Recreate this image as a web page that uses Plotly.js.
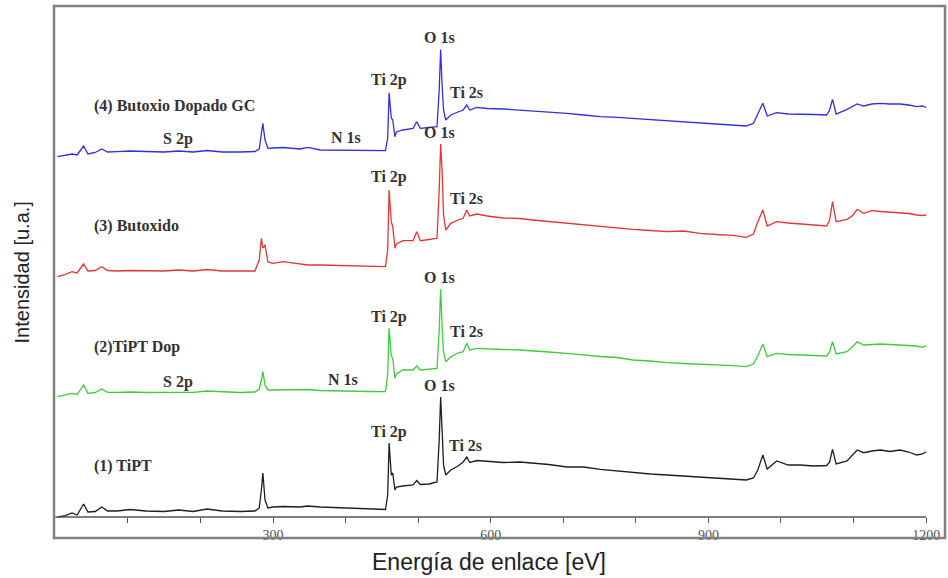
<!DOCTYPE html>
<html>
<head>
<meta charset="utf-8">
<script src="https://cdn.plot.ly/plotly-3.0.1.min.js"></script>
<style>html,body{margin:0;padding:0;background:#fff;}#chart{width:948px;height:578px;}</style>
</head>
<body>
<div id="chart"></div>
<script>
// Binding energy grid (eV)
const energia = [3, 12, 23, 30, 39, 45, 55, 64, 72, 85, 103, 125, 150, 170, 190, 209, 230, 255, 275, 281, 284, 286, 289, 293, 300, 314, 337, 348, 365, 385, 406, 430, 455, 458, 460, 463, 465, 468, 470, 479, 493, 498, 503, 515, 526, 529, 531, 533, 535, 538, 545, 555, 562, 567, 571, 581, 595, 617, 640, 658, 680, 705, 728, 751, 774, 796, 820, 843, 866, 888, 911, 934, 952, 962, 968, 975, 981, 994, 1010, 1026, 1045, 1063, 1067, 1071, 1076, 1091, 1098, 1105, 1114, 1125, 1137, 1150, 1164, 1176, 1187, 1195, 1200];

// Intensities (a.u., vertically offset spectra)
const tipt = [21, 22, 25, 23, 34, 26, 26.5, 31, 27, 27, 28.5, 27, 26.5, 28, 26.5, 29, 27, 26.5, 27, 30, 48, 65, 38, 30, 31, 31.5, 31, 32, 31, 30.5, 29.5, 29, 28.5, 43, 95, 63, 65, 48, 51, 52, 53, 57.5, 53.5, 54, 56, 98, 141, 108, 73, 63, 68, 72, 76, 81, 75.5, 77.5, 77, 75.5, 76, 75, 73.5, 71, 71, 68.7, 67, 66, 64, 63, 62, 60.5, 60, 59, 58, 60, 68, 83, 69, 77, 73, 73, 72, 72.5, 76, 88.7, 74, 77, 82, 88, 85.3, 87, 88, 86.5, 88, 86, 83, 84, 86.3];

const tiptDop = [141.3, 142.5, 144.7, 143.5, 153, 144.7, 145.5, 149, 145.7, 145.7, 146, 145.5, 145.5, 146, 145.7, 147, 146, 145.5, 146, 149, 158, 166.3, 153, 148, 148, 148, 148, 148.5, 147.5, 147, 147, 146.5, 146.3, 163, 209.7, 182, 179.7, 159.7, 164, 168, 168, 172, 168, 169, 169.7, 208, 248.7, 211.3, 186, 176.3, 181.3, 185, 186.3, 194.7, 188, 189.7, 189, 188.5, 188, 187.3, 186, 184.7, 183, 181.5, 180.5, 178, 177, 175.3, 174.5, 174, 173, 172.3, 171.3, 174, 182, 194, 181.3, 184.7, 183.5, 183, 182.5, 182, 186, 196.3, 184, 186.3, 191, 196.3, 193, 193.5, 194, 193.5, 193, 192.5, 192, 190.7, 192.3];

const butoxido = [261.3, 263, 266.3, 265, 274, 267, 267.5, 271.3, 267.5, 267, 267.5, 267, 267, 268, 267, 268.5, 267, 267, 267, 278, 299.7, 290, 293, 276, 274.7, 276.3, 274, 273, 273, 272.5, 272, 271.5, 271.3, 288, 348, 316, 311.3, 289.7, 294, 297.3, 297.3, 306.3, 297.3, 298.5, 299.7, 348, 394, 368, 323, 308, 314.7, 318, 319.7, 328, 322, 324, 322, 320, 319.5, 318, 316.5, 314.7, 313, 311.3, 309.7, 308.7, 307.5, 306.3, 307, 304.7, 303.5, 302.7, 300.7, 304, 316, 328, 312, 316.3, 315, 314, 313, 312, 318, 336.3, 316.3, 318.7, 322, 328.7, 324.7, 327.3, 326.5, 326, 325.3, 324.5, 323, 322.5, 323];

const butoxioGC = [381.3, 382.5, 384, 383, 392, 384, 385.5, 389, 386, 386.3, 387, 386.5, 386, 387, 386, 387.5, 386, 386, 386.5, 389, 403, 414.7, 398, 389.7, 390, 390.5, 389, 390.7, 388, 388, 387.7, 387.5, 387.3, 400, 445.3, 420, 418, 401.3, 406, 408, 409.7, 416.3, 409.7, 410.5, 411.3, 448, 488.5, 453, 428, 418, 423, 426, 428, 433, 428, 430.7, 429.5, 429, 428, 426.5, 426, 424.7, 423, 421.3, 420.7, 419.7, 418.5, 417.3, 416.5, 415.3, 414.5, 413.5, 412, 414.7, 424, 434.7, 422, 425.3, 424, 424, 423.5, 423, 428, 438.7, 424, 428.7, 431, 434, 432, 434, 434.7, 434, 434, 433, 431.3, 432, 430.7];

const tickValues = [100, 200, 300, 400, 500, 600, 700, 800, 900, 1000, 1100, 1200];
const tickLabels = ['', '', '300', '', '', '600', '', '', '900', '', '', '1200'];

const serieNombres = ['(1) TiPT', '(2)TiPT Dop', '(3) Butoxido', '(4) Butoxio Dopado GC'];
const serieColores = ['#1e1e1e', '#3dcc3d', '#e53535', '#3030e0'];
const series = [tipt, tiptDop, butoxido, butoxioGC];

const traces = series.map((s, i) => ({
  x: energia, y: s, type: 'scatter', mode: 'lines', name: serieNombres[i],
  line: {color: serieColores[i], width: 1.3}, showlegend: false, hoverinfo: 'skip'
}));

const labFont = {family: 'Liberation Serif, Times New Roman, serif', size: 16, color: '#333'};
function lab(text, x, y, anchor) {
  return {text: '<b>' + text + '</b>', x: x, y: y, xref: 'x', yref: 'y', showarrow: false,
          xanchor: anchor || 'center', yanchor: 'middle', font: labFont};
}
const annotations = [
  lab(serieNombres[3], 51, 432, 'left'),
  lab('S 2p', 169, 399), lab('N 1s', 400, 401), lab('Ti 2p', 460, 458), lab('O 1s', 530, 501), lab('Ti 2s', 566, 446),
  lab(serieNombres[2], 51, 312, 'left'),
  lab('O 1s', 530, 406), lab('Ti 2p', 460, 361), lab('Ti 2s', 566, 340),
  lab(serieNombres[1], 51, 191, 'left'),
  lab('S 2p', 169, 156), lab('N 1s', 396, 159), lab('O 1s', 530, 261), lab('Ti 2p', 460, 221), lab('Ti 2s', 566, 207),
  lab(serieNombres[0], 51, 72, 'left'),
  lab('O 1s', 530, 153), lab('Ti 2p', 460, 106), lab('Ti 2s', 565, 93),
  {text: 'Energía de enlace [eV]', xref: 'paper', yref: 'paper', x: 0.488, y: -0.045, showarrow: false,
   xanchor: 'center', yanchor: 'middle', font: {family: 'Liberation Sans, Arial, sans-serif', size: 23, color: '#222'}},
  {text: 'Intensidad [u.a.]', xref: 'paper', yref: 'paper', x: -0.036, y: 0.499, showarrow: false, textangle: -90,
   xanchor: 'center', yanchor: 'middle', font: {family: 'Liberation Sans Narrow, Arial Narrow, Liberation Sans, sans-serif', size: 20, color: '#222'}}
];

const axisPos = 21 / 532;
const layout = {
  width: 948, height: 578,
  margin: {l: 54, r: 3, t: 6, b: 40},
  paper_bgcolor: '#fff', plot_bgcolor: '#fff',
  xaxis: {range: [-1.8, 1226], anchor: 'free', position: axisPos, showgrid: false, zeroline: false, showline: false,
          ticks: 'outside', ticklen: 5, tickwidth: 1, tickcolor: '#555', tickmode: 'array',
          tickvals: tickValues, ticktext: tickLabels,
          tickfont: {family: 'Liberation Serif, Times New Roman, serif', size: 14, color: '#555'}},
  yaxis: {range: [0, 532], showgrid: false, zeroline: false, showline: false, showticklabels: false, ticks: ''},
  shapes: [
    {type: 'rect', xref: 'paper', yref: 'paper', x0: 0, x1: 1, y0: 0, y1: 1, line: {color: '#808080', width: 2.5}},
    {type: 'line', xref: 'x', yref: 'paper', x0: 0, x1: 1200, y0: axisPos, y1: axisPos, line: {color: '#555', width: 1.5}}
  ],
  annotations: annotations
};

Plotly.newPlot('chart', traces, layout, {staticPlot: true, displayModeBar: false});
</script>
</body>
</html>
